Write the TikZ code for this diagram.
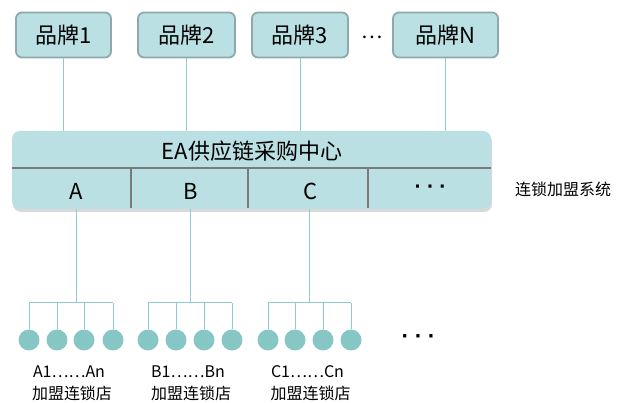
\documentclass[tikz,border=0pt]{standalone}
\usepackage{fontspec}
\setmainfont{Noto Sans CJK SC}
\newfontfamily\dvfont{DejaVu Sans}
\usetikzlibrary{calc}
\definecolor{boxfill}{HTML}{BBE0E3}
\definecolor{brandborder}{HTML}{8DA9AC}
\definecolor{linec}{HTML}{8DCDD2}
\definecolor{circfill}{HTML}{86C6C5}
\definecolor{divc}{HTML}{7A7A7A}
\begin{document}
\begin{tikzpicture}[x=1pt,y=-1pt,
  brand/.style={draw=brandborder, line width=1.8pt, fill=boxfill, rounded corners=6pt,
    minimum height=45pt, inner sep=0pt, font=\fontsize{22}{24}\selectfont},
  hubbox/.style={fill=boxfill, rounded corners=8pt, inner sep=0pt},
  cell/.style={font=\fontsize{22}{24}\selectfont, inner sep=0pt},
  conn/.style={draw=linec, line width=1pt},
  divline/.style={draw=divc, line width=1.6pt},
  shop/.style={circle, fill=circfill, minimum size=21pt, inner sep=0pt},
  lbl/.style={font=\fontsize{16}{18}\selectfont, inner sep=0pt},
  dots/.style={font=\dvfont\bfseries\fontsize{17}{19}\selectfont, inner sep=0pt}]
\useasboundingbox (0,0) rectangle (622,403);
% brands
\node[brand, minimum width=95pt] (b1) at (63.5,35) {品牌1};
\node[brand, minimum width=97pt] (b2) at (186.5,35) {品牌2};
\node[brand, minimum width=96pt] (b3) at (300,35) {品牌3};
\node[brand, minimum width=105pt] (bN) at (445.5,35) {品牌N};
\node[inner sep=0pt, font=\fontsize{20}{22}\selectfont] (bdots) at (372,37) {…};
% hub
\fill[black!15, rounded corners=8pt] (13,134) rectangle (492,212);
\node[hubbox, minimum width=479pt, minimum height=78pt] (hub) at (251.5,170) {};
\node[cell] (title) at (252,151) {EA供应链采购中心};
\draw[divline] (hub.west |- 0,168) -- (hub.east |- 0,168);
\foreach \x in {131,248,368} \draw[divline] (\x,168) -- (\x,208);
\node[cell] (cA) at (76,191) {A};
\node[cell] (cB) at (191,191) {B};
\node[cell] (cC) at (311,191) {C};
\node[dots] (cD) at (430,189) {· · ·};
\node[lbl] (sys) at (563,189) {连锁加盟系统};
% brand connectors
\foreach \b in {b1,b2,b3,bN} \draw[conn] (\b.south) -- (\b.south |- hub.north);
% shop groups
\foreach \g/\sx/\a/\b/\c/\d/\t in {A/76/29/57/84/113/A1……An, B/190/148/176/204/232/B1……Bn, C/309/268/295/323/351/C1……Cn}{
  \node[shop] (\g1) at (\a,340) {};
  \node[shop] (\g2) at (\b,340) {};
  \node[shop] (\g3) at (\c,340) {};
  \node[shop] (\g4) at (\d,340) {};
  \coordinate (\g top) at (\sx,303);
  \draw[conn] (\sx,209) -- (\g top);
  \draw[conn] (\g1 |- \g top) -- (\g4 |- \g top);
  \foreach \i in {1,2,3,4} \draw[conn] (\g\i |- \g top) -- (\g\i.north);
  \node[lbl] (\g lab) at ($(\g1)!0.5!(\g4) + (-2,32)$) {\t};
  \node[lbl] (\g sub) at ($(\g1)!0.5!(\g4) + (1,53)$) {加盟连锁店};
}
\node[dots, font=\dvfont\bfseries\fontsize{18}{20}\selectfont] (sdots) at (418,339) {· · ·};
\end{tikzpicture}
\end{document}
